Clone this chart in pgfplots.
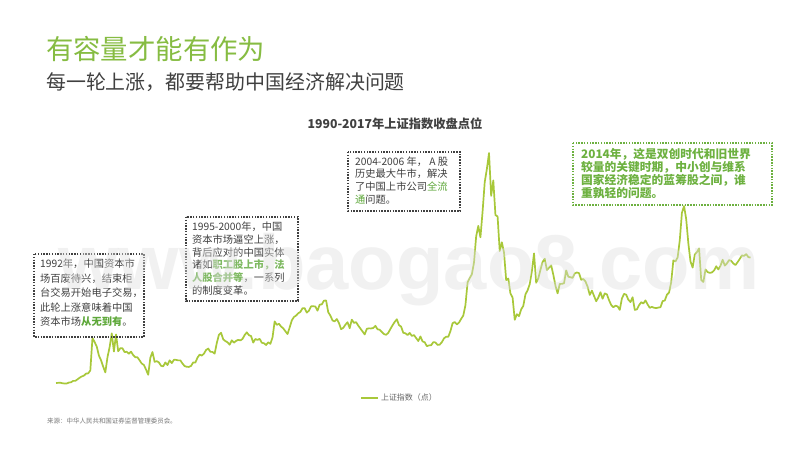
\documentclass[border=0pt]{standalone}
\usepackage{fontspec}
\setmainfont{Noto Sans CJK SC}
\newfontfamily\wmfont{Liberation Sans}
\usepackage{pgfplots}
\pgfplotsset{compat=1.18}
\definecolor{titlegreen}{HTML}{86BC42}
\definecolor{linegreen}{HTML}{A8C83A}
\definecolor{hlgreen}{HTML}{5EA83A}
\definecolor{boxgreen}{HTML}{6DB140}
\definecolor{darktext}{HTML}{404040}
\definecolor{wmgray}{HTML}{DEDEDE}
\begin{document}
\begin{tikzpicture}[x=1bp,y=1bp]
\path[use as bounding box, fill=white] (0,0) rectangle (800,450);
% titles
\node[anchor=west, inner sep=0, text=titlegreen, font=\fontsize{27.5}{30}\selectfont] at (46,401) {有容量才能有作为};
\node[anchor=west, inner sep=0, text=darktext, font=\fontsize{20}{22}\selectfont] at (46,368) {每一轮上涨，都要帮助中国经济解决问题};
\node[anchor=center, inner sep=0, text=darktext, font=\bfseries\fontsize{12.3}{14}\selectfont] at (395,326) {1990-2017年上证指数收盘点位};
\begin{axis}[
  at={(45.3bp,62bp)}, anchor=south west,
  scale only axis, width=720.2bp, height=244.6bp,
  xmin=1990.5, xmax=2018.5, ymin=0, ymax=6200,
  hide axis, clip=false,
  legend style={at={(axis description cs:0.433,-0.041)}, anchor=west, draw=none, fill=none,
    font=\fontsize{8}{9}\selectfont, text=darktext!80},
]
\addplot[linegreen, line width=1.7bp, line join=round] table[row sep=\\, x expr=1990.917+\coordindex/12, y index=0] {
v\\127.61\\
129.97\\133.01\\120.19\\113.94\\114.83\\137.56\\145.67\\180.92\\180.39\\218.6\\259.6\\292.75\\
313.24\\364.6\\370.0\\445.0\\1266\\1166\\1049\\823\\703\\542\\394\\780\\
1035\\1385\\925\\1358\\931\\1007\\1005\\910\\918\\867\\922\\833\\
779\\777\\701\\619\\583\\467\\334\\766\\912\\664\\680\\648\\
562\\550\\648\\581\\701\\630\\715\\713\\700\\700\\620\\555\\
537\\534\\560\\650\\644\\770\\847\\822\\870\\963\\1000\\917\\
914\\870\\1140\\1350\\1400\\1233\\1189\\1160\\1097\\1209\\1150\\1194\\
1221\\1206\\1243\\1343\\1411\\1339\\1316\\1150\\1242\\1218\\1247\\1147\\
1134\\1090\\1158\\1120\\1280\\1689\\1601\\1628\\1556\\1512\\1440\\1367\\
1535\\1714\\1800\\1836\\1895\\1928\\2023\\2022\\1910\\1961\\2070\\2073\\
2065\\1960\\2112\\2120\\2214\\2218\\1920\\1834\\1711\\1689\\1747\\1646\\
1490\\1524\\1604\\1668\\1515\\1732\\1651\\1668\\1581\\1507\\1433\\1358\\
1500\\1512\\1510\\1521\\1576\\1487\\1477\\1421\\1367\\1348\\1397\\1497\\
1590\\1675\\1741\\1595\\1555\\1399\\1386\\1342\\1396\\1320\\1341\\1266\\
1191\\1306\\1181\\1159\\1060\\1080\\1083\\1162\\1155\\1092\\1099\\1161\\
1258\\1299\\1298\\1440\\1641\\1672\\1612\\1658\\1752\\1837\\2099\\2675\\
2786\\2881\\3183\\3841\\4109\\3820\\4471\\5218\\5552\\5955\\4871\\5262\\
4383\\4348\\3473\\3693\\3433\\2736\\2775\\2397\\2293\\1729\\1871\\1821\\
1991\\2082\\2373\\2477\\2633\\2959\\3412\\2667\\2779\\2996\\3195\\3277\\
2990\\3051\\3110\\2871\\2592\\2398\\2638\\2639\\2656\\2979\\2820\\2808\\
2791\\2905\\2928\\2911\\2743\\2762\\2701\\2568\\2359\\2469\\2333\\2199\\
2292\\2428\\2263\\2397\\2373\\2225\\2103\\2047\\2086\\2069\\1980\\2269\\
2385\\2366\\2237\\2178\\2301\\1979\\1994\\2098\\2175\\2141\\2220\\2116\\
2033\\2056\\2033\\2026\\2039\\2048\\2202\\2217\\2364\\2420\\2683\\3235\\
3210\\3310\\3748\\4442\\4612\\4277\\3664\\3206\\3053\\3383\\3445\\3539\\
2738\\2688\\3004\\2938\\2917\\2930\\2979\\3085\\3005\\3100\\3250\\3104\\
3159\\3242\\3223\\3155\\3117\\3192\\3273\\3361\\3349\\3393\\3317\\3307\\
};
\addlegendentry{上证指数（点）}
\end{axis}
% annotation boxes
\tikzset{dotbox/.style={line width=1.6bp, dash pattern=on 1.5bp off 1.3bp}}
\draw[dotbox, draw=darktext] (34,196) rectangle (144,113);
\node[anchor=north west, inner sep=0, align=left, text=darktext, font=\fontsize{10.3}{14.5}\selectfont] at (40,191)
{1992年，中国资本市\\场百废待兴，结束柜\\台交易开始电子交易，\\此轮上涨意味着中国\\资本市场\textcolor{hlgreen}{\bfseries 从无到有}。};
\draw[dotbox, draw=darktext] (186,233) rectangle (298,149);
\node[anchor=north west, inner sep=0, align=left, text=darktext, font=\fontsize{10.3}{12.9}\selectfont] at (192,228.5)
{1995-2000年，中国\\资本市场逼空上涨，\\背后应对的中国实体\\诸如\textcolor{hlgreen!80}{\bfseries 职工股上市，法}\\\textcolor{hlgreen!80}{\bfseries 人股合并等}，一系列\\的制度变革。};
\draw[dotbox, draw=darktext] (348,298) rectangle (460,239);
\node[anchor=north west, inner sep=0, align=left, text=darktext, font=\fontsize{10.3}{12.6}\selectfont] at (355,293.5)
{2004-2006 年， A 股\\历史最大牛市，解决\\了中国上市公司\textcolor{hlgreen}{全流}\\\textcolor{hlgreen}{通}问题。};
\draw[dotbox, draw=boxgreen] (573,307) rectangle (772,245);
\node[anchor=north west, inner sep=0, align=left, text=boxgreen, font=\bfseries\fontsize{11.8}{13}\selectfont] at (581,301.5)
{2014年，这是双创时代和旧世界\\较量的关键时期，中小创与维系\\国家经济稳定的蓝筹股之间，谁\\重孰轻的问题。};
% watermark (overlay)
\node[anchor=base west, inner sep=0, text=wmgray, text opacity=0.42, font=\wmfont\bfseries\fontsize{78}{78}\selectfont] at (58,160) {www.baogao8.com};
% source
\node[anchor=west, inner sep=0, text=darktext!70, font=\fontsize{6.5}{8}\selectfont] at (47,29) {来源：中华人民共和国证券监督管理委员会。};
\end{tikzpicture}
\end{document}
